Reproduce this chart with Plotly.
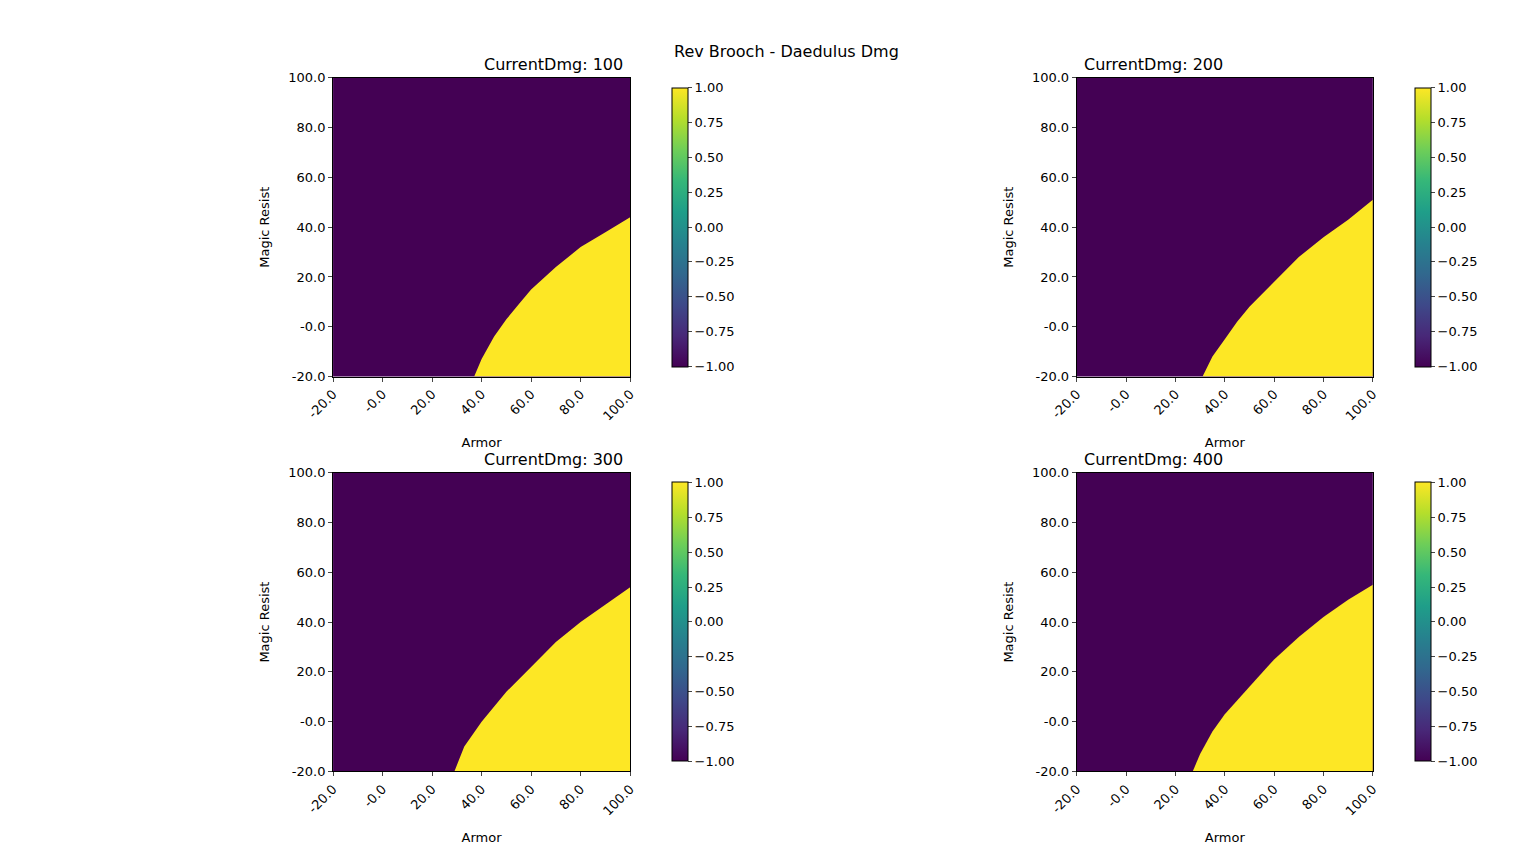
import plotly.graph_objects as go

# boundary of the yellow (value 1) region: armor, magic resist
titles = ["CurrentDmg: 100", "CurrentDmg: 200", "CurrentDmg: 300", "CurrentDmg: 400"]
armor_pts = [
    [37, 40, 45, 50, 55, 60, 70, 80, 90, 100],
    [31, 35, 40, 45, 50, 60, 70, 80, 90, 100],
    [29, 33, 40, 45, 50, 60, 70, 80, 90, 100],
    [27, 30, 35, 40, 50, 60, 70, 80, 90, 100],
]
mr_pts = [
    [-20, -13, -4, 3, 9, 15, 24, 32, 38, 44],
    [-20, -12, -5, 2, 8, 18, 28, 36, 43, 51],
    [-20, -10, 0, 6, 12, 22, 32, 40, 47, 54],
    [-20, -13, -4, 3, 14, 25, 34, 42, 49, 55],
]
axis_ticks = [-20, 0, 20, 40, 60, 80, 100]
axis_text = ["-20.0", "-0.0", "20.0", "40.0", "60.0", "80.0", "100.0"]
cb_ticks = [-1, -0.75, -0.5, -0.25, 0, 0.25, 0.5, 0.75, 1]
cb_text = ["\u22121.00", "\u22120.75", "\u22120.50", "\u22120.25", "0.00", "0.25", "0.50", "0.75", "1.00"]

PURPLE = "#440154"
YELLOW = "#fde725"
W, H = 1536, 850
xdoms = [(304 / W, 608 / W), (1065 / W, 1368 / W)]
ydoms = [(1 - 368 / H, 1 - 64 / H), (1 - 770 / H, 1 - 466 / H)]
cbx = [641 / W, 1401 / W]

fig = go.Figure()
layout = dict(width=W, height=H, paper_bgcolor="white",
              font=dict(family="DejaVu Sans", color="black", size=12),
              showlegend=False, margin=dict(l=0, r=0, t=0, b=0))
annotations = [dict(text="Rev Brooch - Daedulus Dmg", x=0.5, y=1 - 25 / H, xref="paper", yref="paper",
                    showarrow=False, font=dict(size=16))]

for i in range(4):
    r, c = divmod(i, 2)
    n = "" if i == 0 else str(i + 1)
    xa, ya = "x" + n, "y" + n
    xs = armor_pts[i] + [100, armor_pts[i][0]]
    ys = mr_pts[i] + [-20, -20]
    fig.add_trace(go.Scatter(x=xs, y=ys, xaxis=xa, yaxis=ya, mode="lines", fill="toself",
                             fillcolor=YELLOW, line=dict(width=0, color=YELLOW), hoverinfo="skip"))
    fig.add_trace(go.Scatter(x=[None], y=[None], xaxis=xa, yaxis=ya, mode="markers",
                             marker=dict(color=[-1, 1], cmin=-1, cmax=1, colorscale="Viridis", showscale=True,
                                         colorbar=dict(x=cbx[c], xanchor="left", thickness=16, thicknessmode="pixels",
                                                       len=ydoms[r][1] - ydoms[r][0], y=ydoms[r][0], yanchor="bottom",
                                                       lenmode="fraction", outlinewidth=1, outlinecolor="black",
                                                       tickvals=cb_ticks, ticktext=cb_text, ticks="outside",
                                                       ticklen=4, tickfont=dict(size=13)))))
    common = dict(range=[-20, 100], tickvals=axis_ticks, ticktext=axis_text, ticks="outside", ticklen=4,
                  showgrid=False, zeroline=False, showline=True, linecolor="black", mirror=True,
                  tickfont=dict(size=13))
    layout["xaxis" + n] = dict(domain=xdoms[c], anchor=ya, tickangle=-45,
                               title=dict(text="Armor", font=dict(size=13)), **common)
    layout["yaxis" + n] = dict(domain=ydoms[r], anchor=xa,
                               title=dict(text="Magic Resist", font=dict(size=13)), **common)
    annotations.append(dict(text=titles[i], x=sum(xdoms[c]) / 2, y=ydoms[r][1], xref="paper", yref="paper",
                            yanchor="bottom", yshift=2, showarrow=False, font=dict(size=16)))

layout["annotations"] = annotations
fig.update_layout(**layout)
fig.update_layout(plot_bgcolor=PURPLE)
fig.write_html("out.html")
